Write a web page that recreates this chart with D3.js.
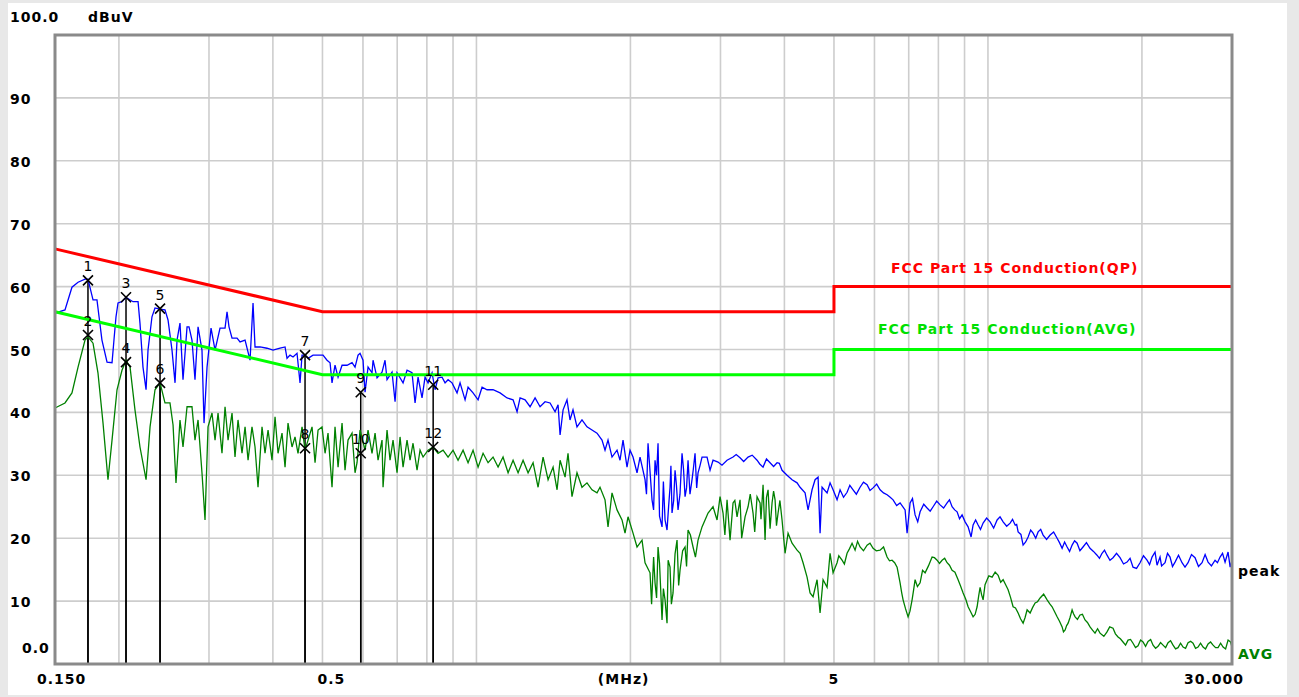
<!DOCTYPE html>
<html>
<head>
<meta charset="utf-8">
<script src="https://cdn.jsdelivr.net/npm/d3@7"></script>
<style>
    body { margin: 0; background: #e8e8e8; }
    svg { display: block; }
    .lbl { font-family: "DejaVu Sans", sans-serif; font-weight: bold; font-size: 14px; letter-spacing: 1px; }
    .mk-num { font-family: "DejaVu Sans", sans-serif; font-size: 14px; }
</style>
</head>
<body>
<script>
    // ---- data (MHz, dBuV) ----
    var yTickValues = [0, 10, 20, 30, 40, 50, 60, 70, 80, 90, 100];
    var yTickLabels = ["0.0", "10", "20", "30", "40", "50", "60", "70", "80", "90", "100.0"];
    var xTickValues = [0.15, 0.5, 1.94, 5, 30];
    var xTickLabels = ["0.150", "0.5", "(MHz)", "5", "30.000"];
    var gridFreqs = [0.2, 0.3, 0.4, 0.5, 0.6, 0.7, 0.8, 0.9, 1, 2, 3, 4, 5, 6, 7, 8, 9, 10, 20];

    var qpLimitFreq = [0.15, 0.5, 5, 5, 30];
    var qpLimitLevel = [66, 56, 56, 60, 60];
    var avLimitFreq = [0.15, 0.5, 5, 5, 30];
    var avLimitLevel = [56, 46, 46, 50, 50];

    var markerNo = ["1", "2", "3", "4", "5", "6", "7", "8", "9", "10", "11", "12"];
    var markerFreq = [0.174, 0.174, 0.2065, 0.2065, 0.2407, 0.2407, 0.4623, 0.4623, 0.594, 0.594, 0.823, 0.823];
    var markerLevel = [61.0, 52.3, 58.3, 48.0, 56.5, 44.7, 49.1, 34.3, 43.2, 33.5, 44.4, 34.5];

    var peakTrace = [
        [0.150,55.8],[0.1569,56.3],[0.1619,59.9],[0.1664,60.7],[0.1717,61.2],[0.1740,61.2],[0.1780,57.9],[0.1812,57.9],[0.1829,55.2],[0.1853,51.5],
        [0.1896,48.0],[0.1939,47.9],[0.1956,51.5],[0.1974,55.2],[0.1992,57.4],[0.2028,57.6],[0.2065,58.3],[0.2131,57.6],[0.2180,57.6],[0.2199,54.2],
        [0.2229,47.2],[0.2260,43.6],[0.2280,49.9],[0.2321,55.2],[0.2353,56.6],[0.2407,56.4],[0.2461,56.3],[0.2495,54.7],[0.2540,49.9],[0.2575,44.7],
        [0.2598,51.5],[0.2633,54.2],[0.2669,45.2],[0.2718,53.6],[0.2742,53.6],[0.2779,51.5],[0.2817,45.2],[0.2856,53.6],[0.2907,49.9],[0.2934,38.3],
        [0.2974,47.2],[0.3028,53.4],[0.3083,49.9],[0.3153,53.4],[0.3225,53.4],[0.3254,56.0],[0.3283,53.6],[0.3328,51.8],[0.3404,51.8],[0.3450,51.2],
        [0.3529,51.5],[0.3609,48.3],[0.3658,57.4],[0.3691,50.4],[0.3775,50.4],[0.3896,50.2],[0.4003,49.9],[0.4131,50.2],[0.4225,50.4],[0.4263,48.6],
        [0.4321,49.1],[0.4380,48.8],[0.4459,49.4],[0.4520,44.7],[0.4561,49.1],[0.4623,49.1],[0.4686,48.6],[0.4792,49.1],[0.4902,49.1],[0.5013,49.1],
        [0.5104,48.3],[0.5174,47.9],[0.5220,44.7],[0.5291,47.5],[0.5364,45.6],[0.5461,47.5],[0.5585,47.5],[0.5712,47.9],[0.5790,47.2],[0.5869,49.1],
        [0.5922,49.4],[0.6002,48.3],[0.6057,43.2],[0.6139,47.2],[0.6250,46.3],[0.6279,48.3],[0.6393,45.5],[0.6538,46.4],[0.6627,48.3],[0.6687,45.2],
        [0.6839,46.4],[0.6933,41.7],[0.6995,46.3],[0.7187,44.7],[0.7317,46.7],[0.7483,46.3],[0.7586,41.5],[0.7689,45.6],[0.7828,42.3],[0.7935,45.6],
        [0.8043,44.7],[0.8189,46.3],[0.8301,43.6],[0.8413,45.5],[0.8566,45.6],[0.8683,44.7],[0.8801,45.2],[0.8960,44.7],[0.9164,43.1],[0.9289,44.7],
        [0.9501,42.0],[0.9630,44.0],[0.9849,43.1],[1.0074,42.0],[1.0256,44.0],[1.0490,43.6],[1.0777,43.6],[1.1122,43.1],[1.1478,42.3],[1.1793,42.0],
        [1.2007,40.1],[1.2170,42.3],[1.2448,42.0],[1.2731,40.9],[1.3021,42.3],[1.3317,40.9],[1.3620,41.7],[1.3930,41.5],[1.4248,40.1],[1.4441,41.2],
        [1.4572,36.4],[1.4770,40.4],[1.5034,42.0],[1.5238,38.8],[1.5445,40.4],[1.5725,37.7],[1.6082,38.8],[1.6449,37.7],[1.6824,37.2],[1.7208,36.7],
        [1.7599,35.6],[1.7840,34.0],[1.8082,35.6],[1.8410,32.9],[1.8830,34.0],[1.9086,32.4],[1.9346,35.6],[1.9697,31.3],[1.9965,34.0],[2.0236,32.9],
        [2.0604,30.4],[2.0885,32.9],[2.1361,29.3],[2.1651,35.1],[2.2043,26.1],[2.2344,32.4],[2.2648,35.1],[2.3059,21.8],[2.3374,22.9],[2.3584,21.3],
        [2.3905,28.1],[2.4120,24.0],[2.4450,30.8],[2.4782,24.5],[2.5231,33.5],[2.5576,26.6],[2.5924,32.4],[2.6392,29.3],[2.6753,33.5],[2.7117,30.4],
        [2.7608,32.9],[2.8238,32.9],[2.8622,30.8],[2.9011,32.4],[2.9673,32.1],[3.0899,32.4],[3.1745,32.9],[3.2761,32.8],[3.3963,32.9],[3.5368,32.4],
        [3.6337,31.3],[3.7500,32.0],[3.8700,32.0],[3.9580,30.8],[4.0482,30.0],[4.1403,29.3],[4.2347,28.8],[4.2923,28.1],[4.3902,27.2],[4.4498,24.5],
        [4.5304,27.7],[4.5924,29.3],[4.6548,29.7],[4.6968,20.8],[4.7391,28.1],[4.8471,27.2],[4.9131,28.8],[4.9799,27.7],[5.0703,26.1],[5.1393,27.7],
        [5.3038,27.3],[5.4491,27.7],[5.6236,28.1],[5.8036,28.5],[5.9626,28.0],[6.1536,27.7],[6.3505,26.9],[6.5245,26.1],[6.7334,25.6],[6.8869,24.5],
        [6.9489,20.8],[7.0435,25.6],[7.2041,23.7],[7.3679,24.2],[7.6037,24.8],[7.8120,25.0],[8.0621,25.3],[8.3201,25.6],[8.5093,25.0],[8.7033,24.2],
        [8.9012,23.7],[9.0229,22.6],[9.1456,21.8],[9.2696,20.2],[9.3536,22.1],[9.5670,22.1],[9.7844,22.4],[10.098,22.6],[10.421,22.9],[10.707,22.6],
        [11.049,22.4],[11.301,22.1],[11.455,21.0],[11.715,18.9],[11.982,20.2],[12.254,20.8],[12.534,21.0],[12.819,20.5],[13.230,20.5],[13.653,20.0],
        [13.964,18.4],[14.282,18.6],[14.606,18.9],[14.939,19.2],[15.341,18.6],[15.833,18.4],[16.340,17.3],[16.711,17.6],[17.092,17.3],[17.561,16.9],
        [18.123,16.9],[18.703,16.2],[19.215,15.4],[19.830,16.1],[20.465,16.5],[20.931,17.0],[21.217,17.8],[21.408,15.7],[21.699,17.0],[22.194,16.1],
        [22.698,17.0],[23.215,16.2],[23.958,16.1],[24.615,16.1],[25.403,16.9],[26.215,16.1],[26.936,16.2],[27.798,16.5],[28.430,17.0],[29.078,16.2],
        [29.474,17.8],[30.000,16.5],
        // dense spikes around the 2 - 2.7 MHz dip
        [2.150,27.0],[2.220,24.5],[2.250,30.0],[2.280,23.5],[2.320,29.0],[2.375,25.0],[2.400,31.5],[2.430,26.0],[2.460,28.5],[2.500,27.0],
        [2.540,31.0],[2.575,28.0],[2.615,27.0],[2.655,31.0],[2.695,28.0],[2.735,31.5],
        // fine ripple 3 - 30 MHz
        [3.02,31.6],[3.22,33.3],[3.33,32.2],[3.46,33.2],[3.58,31.8],[3.69,32.6],[3.81,31.4],[3.91,31.9],
        [5.22,26.5],[5.37,28.4],[5.53,27.0],[5.71,28.9],[5.88,27.6],[6.06,28.6],[6.25,27.2],[6.44,26.5],[6.63,25.2],
        [7.12,26.3],[7.29,22.6],[7.49,25.4],[7.71,24.3],[7.94,25.9],[8.19,24.8],[8.41,26.1],[8.61,24.5],[8.80,23.1],
        [9.46,22.9],[9.67,21.4],[9.94,23.2],[10.26,21.6],[10.56,23.4],[10.88,21.9],[11.17,23.0],[11.38,22.2],[11.60,20.6],
        [11.85,19.4],[12.12,21.3],[12.40,20.0],[12.68,21.4],[13.02,19.8],[13.44,21.0],[13.80,19.3],[14.12,19.4],[14.44,17.9],
        [14.77,19.6],[15.13,18.0],[15.58,19.3],[16.08,17.9],[16.52,16.8],[16.90,18.1],[17.32,16.5],[17.84,17.6],[18.41,15.9],
        [18.96,16.8],[19.52,15.2],[20.14,17.2],[20.70,15.8],[21.85,15.6],[22.44,17.6],[22.95,15.5],[23.58,17.3],[24.28,15.4],
        [25.00,17.4],[25.80,15.5],[26.58,17.4],[27.35,15.6],[28.10,16.1],[28.75,17.6],[29.75,15.4]
    ];

    var avgTrace = [
        [0.150,40.7],[0.1569,41.5],[0.1619,43.1],[0.1664,47.2],[0.1717,51.5],[0.1740,52.0],[0.1780,51.0],[0.1820,46.3],[0.1862,38.3],[0.1904,29.3],
        [0.1939,35.6],[0.1983,43.6],[0.2028,46.7],[0.2065,48.3],[0.2103,47.2],[0.2150,40.4],[0.2199,34.5],[0.2260,29.3],[0.2301,37.7],[0.2353,43.6],
        [0.2407,44.7],[0.2461,41.5],[0.2517,41.5],[0.2552,38.0],[0.2586,28.8],[0.2633,38.8],[0.2669,34.5],[0.2718,40.9],[0.2779,40.9],[0.2817,35.6],
        [0.2856,38.8],[0.2907,30.4],[0.2947,22.9],[0.2987,37.7],[0.3041,39.9],[0.3083,35.6],[0.3125,39.9],[0.3181,33.5],[0.3225,40.9],[0.3269,35.6],
        [0.3328,39.9],[0.3373,32.9],[0.3419,38.8],[0.3481,33.5],[0.3529,37.7],[0.3577,32.4],[0.3641,37.7],[0.3691,34.5],[0.3741,28.1],[0.3809,37.7],
        [0.3861,33.5],[0.3914,37.2],[0.3984,32.4],[0.4039,39.3],[0.4094,33.5],[0.4168,36.7],[0.4225,31.3],[0.4282,38.3],[0.4360,34.5],[0.4419,36.1],
        [0.4479,33.5],[0.4561,37.7],[0.4623,34.0],[0.4686,35.6],[0.4771,37.7],[0.4836,32.0],[0.4902,37.2],[0.4990,37.7],[0.5059,33.5],[0.5127,36.7],
        [0.5220,28.1],[0.5291,37.7],[0.5364,31.3],[0.5461,38.3],[0.5535,30.8],[0.5610,35.6],[0.5712,36.7],[0.5790,30.4],[0.5842,32.0],[0.5922,37.2],
        [0.6057,34.0],[0.6139,37.2],[0.6250,33.5],[0.6336,36.7],[0.6422,32.4],[0.6538,35.6],[0.6568,28.1],[0.6687,37.2],[0.6778,32.4],[0.6870,35.6],
        [0.6995,30.4],[0.7090,36.1],[0.7187,31.3],[0.7317,35.6],[0.7417,32.4],[0.7517,35.1],[0.7654,30.8],[0.7758,34.0],[0.7864,32.9],[0.8043,34.0],
        [0.8226,34.5],[0.8413,33.5],[0.8605,34.0],[0.8801,32.9],[0.9001,34.0],[0.9206,32.4],[0.9416,34.0],[0.9630,32.0],[0.9849,34.0],[1.0074,31.3],
        [1.0303,33.5],[1.0538,32.0],[1.0777,32.9],[1.1023,31.3],[1.1273,32.9],[1.1531,30.4],[1.1793,32.4],[1.2062,30.4],[1.2336,32.4],[1.2617,30.4],
        [1.2904,32.0],[1.3198,28.1],[1.3498,32.9],[1.3806,29.3],[1.4120,31.3],[1.4376,27.7],[1.4572,32.4],[1.4904,29.7],[1.5102,33.5],[1.5375,26.6],
        [1.5725,30.4],[1.6082,28.1],[1.6449,28.8],[1.6824,27.7],[1.7208,27.2],[1.7442,28.1],[1.7840,26.1],[1.8082,21.8],[1.8410,27.2],[1.8830,24.5],
        [1.9258,22.9],[1.9521,20.8],[1.9787,23.4],[2.0236,20.8],[2.0604,18.6],[2.1073,19.7],[2.1361,16.1],[2.1846,14.5],[2.2344,12.9],[2.2648,18.6],
        [2.3059,7.0],[2.3374,10.2],[2.3584,6.5],[2.3905,15.4],[2.4230,11.3],[2.4671,19.7],[2.5006,14.9],[2.5576,18.6],[2.5924,21.3],[2.6513,18.6],
        [2.7117,19.7],[2.7608,21.8],[2.7986,22.9],[2.8366,24.0],[2.9011,25.0],[2.9538,22.9],[2.9940,26.6],[3.0347,24.0],[3.0899,26.1],[3.1319,19.7],
        [3.1745,25.6],[3.2322,23.4],[3.2761,26.1],[3.3508,23.4],[3.3963,25.0],[3.4736,24.0],[3.5368,26.6],[3.5849,25.6],[3.6337,28.5],[3.6666,19.7],
        [3.7166,27.7],[3.7838,25.6],[3.8355,26.1],[3.8876,24.0],[3.9580,22.9],[4.0121,17.6],[4.0667,20.8],[4.1403,19.2],[4.2347,18.1],[4.2923,17.6],
        [4.3507,16.1],[4.4297,13.8],[4.4900,11.3],[4.5511,10.7],[4.6338,13.4],[4.6968,8.1],[4.7607,13.4],[4.8471,12.2],[4.9131,17.6],[4.9799,14.5],
        [5.0703,16.1],[5.1856,16.5],[5.3038,17.6],[5.4244,19.2],[5.4986,18.1],[5.6236,18.6],[5.8036,18.9],[5.9626,18.4],[6.1536,18.1],[6.3505,17.0],
        [6.4949,16.5],[6.6430,15.4],[6.7334,12.9],[6.8250,10.2],[6.9805,7.5],[7.1069,10.2],[7.2041,13.4],[7.3679,12.9],[7.5359,14.5],[7.7766,17.0],
        [7.9538,16.5],[8.1347,16.5],[8.3201,16.1],[8.5093,14.9],[8.7429,13.4],[8.9418,11.3],[9.1456,9.1],[9.3536,7.5],[9.5236,9.1],[9.6531,12.2],
        [9.7844,10.2],[9.9625,13.4],[10.189,13.8],[10.469,14.1],[10.707,13.4],[10.950,11.8],[11.199,9.1],[11.455,8.1],[11.715,6.5],[11.928,8.6],
        [12.090,8.1],[12.366,9.7],[12.647,10.5],[13.052,10.2],[13.349,9.1],[13.653,7.5],[13.964,5.9],[14.155,5.4],[14.347,6.5],[14.606,8.6],
        [14.806,7.5],[15.135,7.8],[15.480,7.0],[15.833,5.9],[16.194,4.9],[16.562,4.9],[17.092,5.1],[17.561,5.7],[17.961,4.3],[18.369,3.5],
        [18.788,3.8],[19.215,3.3],[19.653,2.9],[20.100,3.5],[20.558,3.6],[21.026,3.0],[21.505,2.8],[21.994,3.0],[22.495,3.4],[23.007,3.0],
        [23.532,2.6],[24.067,2.7],[24.615,3.4],[25.175,3.3],[25.748,2.7],[26.334,2.7],[26.936,3.2],[27.548,3.0],[28.176,2.6],[28.817,2.7],
        [29.474,3.8],[30.000,2.7],
        // dense spikes in the 2.2 - 2.7 MHz dip and the 3 - 4 MHz hump
        [2.200,9.5],[2.220,17.0],[2.250,10.5],[2.280,16.0],[2.320,12.0],[2.370,16.5],[2.405,9.5],[2.445,17.5],[2.485,12.5],[2.530,18.0],
        [2.575,15.5],[2.620,20.5],[2.680,17.0],
        [3.060,20.5],[3.200,26.0],[3.300,20.0],[3.430,27.0],[3.500,21.0],[3.600,23.0],[3.690,26.5],[3.750,21.5],[3.810,27.5],[3.860,22.0],[3.920,26.0],
        // fine ripple 5 - 30 MHz
        [5.11,17.2],[5.24,15.9],[5.36,18.3],[5.56,19.5],[5.71,18.0],[5.88,19.2],[6.05,18.0],[6.25,18.6],[6.42,16.4],[6.57,16.1],
        [6.78,11.4],[6.90,8.8],[7.04,8.4],[7.16,11.9],[7.28,12.3],[7.45,14.9],[7.65,15.6],[7.86,16.9],[8.04,16.0],[8.23,16.8],
        [8.41,15.7],[8.62,14.6],[8.84,12.4],[9.05,10.3],[9.25,8.3],[9.44,7.9],[9.59,10.8],[9.72,11.0],[9.87,12.6],[10.04,14.0],
        [10.33,14.6],[10.59,13.0],[10.83,12.6],[11.07,10.6],[11.32,8.9],[11.58,7.2],[11.82,7.4],[12.23,9.0],[12.50,9.9],[12.85,11.1],
        [13.20,9.6],[13.50,8.3],[13.80,6.8],[14.05,5.1],[14.25,6.1],[14.47,7.4],[14.70,8.0],[14.96,7.1],[15.30,7.9],[15.65,6.6],
        [16.01,5.4],[16.38,5.6],[16.85,4.4],[17.30,5.9],[17.75,4.8],[18.15,4.0],[18.58,3.0],[19.00,3.9],[19.43,2.6],[19.88,3.8],
        [20.33,2.8],[20.80,3.9],[21.27,2.5],[21.75,3.4],[22.25,2.6],[22.75,3.7],[23.27,2.4],[23.80,3.3],[24.34,2.5],[24.90,3.6],
        [25.46,2.5],[26.04,3.3],[26.63,2.4],[27.24,3.5],[27.86,2.6],[28.50,3.3],[29.15,2.4],[29.80,3.5]
    ];

    // ---- layout ----
    var W = 1299, H = 697;
    var plot = {left: 55, top: 35, right: 1232, bottom: 664};

    var svg = d3.select("body").append("svg")
        .attr("width", W)
        .attr("height", H);

    // white panel behind the chart
    svg.append("rect")
        .attr("x", 8).attr("y", 3)
        .attr("width", 1279).attr("height", 692)
        .attr("fill", "#ffffff");

    var x = d3.scaleLog()
        .domain([0.15, 30])
        .range([plot.left, plot.right]);

    var y = d3.scaleLinear()
        .domain([0, 100])
        .range([plot.bottom, plot.top]);

    // gridlines
    var grid = svg.append("g").classed("grid", true);
    grid.selectAll(".vgrid")
        .data(gridFreqs)
        .enter()
        .append("line")
        .classed("vgrid", true)
        .attr("x1", function(d){ return x(d); })
        .attr("x2", function(d){ return x(d); })
        .attr("y1", plot.top)
        .attr("y2", plot.bottom)
        .attr("stroke", "#cdcdcd")
        .attr("stroke-width", 1.6);

    grid.selectAll(".hgrid")
        .data(yTickValues.slice(1, -1))
        .enter()
        .append("line")
        .classed("hgrid", true)
        .attr("x1", plot.left)
        .attr("x2", plot.right)
        .attr("y1", function(d){ return y(d); })
        .attr("y2", function(d){ return y(d); })
        .attr("stroke", "#cdcdcd")
        .attr("stroke-width", 1.6);

    // marker drop lines (under the traces)
    var markers = markerNo.map(function(n, i){
        return {no: n, f: markerFreq[i], v: markerLevel[i]};
    });

    svg.selectAll(".drop")
        .data(markers)
        .enter()
        .append("line")
        .classed("drop", true)
        .attr("x1", function(d){ return x(d.f); })
        .attr("x2", function(d){ return x(d.f); })
        .attr("y1", function(d){ return y(d.v); })
        .attr("y2", plot.bottom)
        .attr("stroke", "#000")
        .attr("stroke-width", 1.5);

    // traces
    var line = d3.line()
        .x(function(d){ return x(d[0]); })
        .y(function(d){ return y(d[1]); });

    var sortByFreq = function(a, b){ return a[0] - b[0]; };

    svg.append("path")
        .datum(avgTrace.slice().sort(sortByFreq))
        .attr("d", line)
        .attr("fill", "none")
        .attr("stroke", "#008000")
        .attr("stroke-width", 1.3);

    svg.append("path")
        .datum(peakTrace.slice().sort(sortByFreq))
        .attr("d", line)
        .attr("fill", "none")
        .attr("stroke", "#0000ff")
        .attr("stroke-width", 1.3);

    // limit lines
    var qpLimit = d3.zip(qpLimitFreq, qpLimitLevel);
    var avLimit = d3.zip(avLimitFreq, avLimitLevel);

    svg.append("path")
        .datum(qpLimit)
        .attr("d", line)
        .attr("fill", "none")
        .attr("stroke", "#ff0000")
        .attr("stroke-width", 3);

    svg.append("path")
        .datum(avLimit)
        .attr("d", line)
        .attr("fill", "none")
        .attr("stroke", "#00ff00")
        .attr("stroke-width", 3);

    // markers: X and number
    var mk = svg.selectAll(".marker")
        .data(markers)
        .enter()
        .append("g")
        .classed("marker", true)
        .attr("transform", function(d){ return "translate(" + x(d.f) + "," + y(d.v) + ")"; });

    mk.append("path")
        .attr("d", "M-5,-5L5,5M-5,5L5,-5")
        .attr("stroke", "#000")
        .attr("stroke-width", 1.6)
        .attr("fill", "none");

    mk.append("text")
        .classed("mk-num", true)
        .attr("x", 0)
        .attr("y", -9)
        .style("text-anchor", "middle")
        .text(function(d){ return d.no; });

    // frame
    svg.append("rect")
        .attr("x", plot.left)
        .attr("y", plot.top)
        .attr("width", plot.right - plot.left)
        .attr("height", plot.bottom - plot.top)
        .attr("fill", "none")
        .attr("stroke", "#8a8a8a")
        .attr("stroke-width", 3);

    // y labels (the end labels sit inside the frame like the original)
    svg.selectAll(".ylab")
        .data(yTickValues)
        .enter()
        .append("text")
        .classed("lbl", true)
        .attr("x", function(d){ return d === 0 ? 22 : 10; })
        .attr("y", function(d){
            if(d === 100) return 22;
            if(d === 0) return y(d) - 11;
            return y(d) + 6;
        })
        .text(function(d, i){ return yTickLabels[i]; });

    svg.append("text")
        .classed("lbl", true)
        .attr("x", 88)
        .attr("y", 22)
        .text("dBuV");

    // x labels
    var xAnchor = ["start", "middle", "middle", "middle", "end"];
    var xNudge = [-18, 9, 0, 0, 12];
    svg.selectAll(".xlab")
        .data(xTickValues)
        .enter()
        .append("text")
        .classed("lbl", true)
        .attr("x", function(d, i){ return x(d) + xNudge[i]; })
        .attr("y", 684)
        .style("text-anchor", function(d, i){ return xAnchor[i]; })
        .text(function(d, i){ return xTickLabels[i]; });

    // limit names
    svg.append("text")
        .classed("lbl", true)
        .attr("x", 891)
        .attr("y", 273)
        .attr("fill", "#ff0000")
        .text("FCC Part 15 Conduction(QP)");

    svg.append("text")
        .classed("lbl", true)
        .attr("x", 878)
        .attr("y", 334)
        .attr("fill", "#00e000")
        .text("FCC Part 15 Conduction(AVG)");

    // trace names at the right edge
    svg.append("text")
        .classed("lbl", true)
        .attr("x", 1238)
        .attr("y", 576)
        .attr("fill", "#000")
        .text("peak");

    svg.append("text")
        .classed("lbl", true)
        .attr("x", 1238)
        .attr("y", 659)
        .attr("fill", "#008000")
        .text("AVG");
</script>
</body>
</html>
